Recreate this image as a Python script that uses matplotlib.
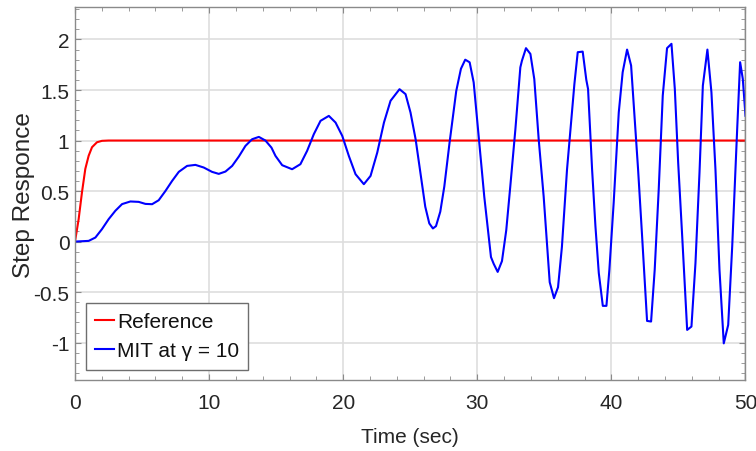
import numpy as np
import matplotlib
matplotlib.use('Agg')
import matplotlib.pyplot as plt
from matplotlib.ticker import MultipleLocator

# reference model output
t_ref = [0, 0.27, 0.52, 0.77, 1.02, 1.27, 1.64, 2.01, 2.5, 50.0]
y_ref = [0, 0.22, 0.487, 0.72, 0.85, 0.934, 0.983, 0.997, 1.0, 1.0]

# plant output with MIT rule, gamma = 10
t_mit = [0, 1.02, 1.52, 2.01, 2.51, 3.01, 3.51, 4.13, 4.75, 5.25,
         5.75, 6.24, 6.74, 7.24, 7.74, 8.36, 8.98, 9.6, 10.22, 10.72,
         11.22, 11.72, 12.22, 12.71, 13.21, 13.71, 14.2, 14.65, 14.95, 15.45,
         16.19, 16.81, 17.31, 17.81, 18.31, 18.93, 19.43, 19.93, 20.42, 20.92,
         21.54, 22.04, 22.54, 23.04, 23.53, 24.2, 24.65, 25.02, 25.4, 25.65,
         26.12, 26.42, 26.69, 26.92, 27.24, 27.54, 27.93, 28.43, 28.78, 29.1,
         29.43, 29.73, 30.1, 30.52, 31.02, 31.22, 31.52, 31.84, 32.16, 32.46,
         32.84, 33.21, 33.33, 33.63, 33.96, 34.25, 34.58, 34.95, 35.4, 35.72,
         36.02, 36.31, 36.69, 37.24, 37.49, 37.86, 38.13, 38.26, 38.56, 38.81,
         39.06, 39.36, 39.63, 39.85, 40.17, 40.55, 40.84, 41.17, 41.47, 41.74,
         41.99, 42.29, 42.66, 42.96, 43.23, 43.53, 43.83, 44.15, 44.48, 44.73,
         44.98, 45.28, 45.65, 45.97, 46.27, 46.57, 46.82, 47.16, 47.46, 47.76,
         48.06, 48.38, 48.71, 49.01, 49.38, 49.6, 49.8, 50.0]
y_mit = [0, 0.007, 0.04, 0.123, 0.222, 0.305, 0.371, 0.397, 0.393, 0.373,
         0.37, 0.409, 0.50, 0.60, 0.69, 0.749, 0.759, 0.733, 0.69, 0.67,
         0.693, 0.749, 0.842, 0.947, 1.013, 1.036, 1.0, 0.93, 0.848, 0.756,
         0.716, 0.766, 0.898, 1.063, 1.195, 1.244, 1.178, 1.046, 0.848, 0.667,
         0.568, 0.65, 0.881, 1.178, 1.393, 1.508, 1.459, 1.277, 1.013, 0.782,
         0.345, 0.18, 0.13, 0.153, 0.296, 0.545, 0.977, 1.49, 1.71, 1.80,
         1.774, 1.575, 1.043, 0.445, -0.153, -0.219, -0.30, -0.193, 0.113, 0.545,
         1.11, 1.724, 1.79, 1.914, 1.857, 1.608, 1.01, 0.445, -0.402, -0.56,
         -0.452, -0.053, 0.711, 1.558, 1.874, 1.88, 1.6, 1.51, 0.715, 0.152,
         -0.311, -0.636, -0.636, -0.278, 0.384, 1.278, 1.675, 1.90, 1.742, 1.212,
         0.715, 0.053, -0.785, -0.791, -0.278, 0.517, 1.444, 1.914, 1.957, 1.51,
         0.781, 0.053, -0.874, -0.841, -0.212, 0.682, 1.543, 1.90, 1.477, 0.715,
         -0.278, -1.007, -0.825, -0.046, 1.113, 1.775, 1.609, 1.245]

plt.rcParams['font.family'] = ['Liberation Sans', 'DejaVu Sans']
plt.rcParams['axes.unicode_minus'] = False

fig = plt.figure(figsize=(7.56, 4.52), dpi=100)
ax = fig.add_axes([0.0992, 0.157, 0.8869, 0.825])

ax.plot(t_ref, y_ref, color='#ff0000', lw=1.5, label='Reference')
ax.plot(t_mit, y_mit, color='#0000ff', lw=1.5, label='MIT at γ = 10')

ax.set_xlim(0, 50)
ax.set_ylim(-1.37, 2.32)
ax.xaxis.set_major_locator(MultipleLocator(10))
ax.xaxis.set_minor_locator(MultipleLocator(2))
ax.yaxis.set_major_locator(MultipleLocator(0.5))
ax.yaxis.set_minor_locator(MultipleLocator(0.1))
ax.set_yticks([-1, -0.5, 0, 0.5, 1, 1.5, 2])
ax.set_yticklabels(['-1', '-0.5', '0', '0.5', '1', '1.5', '2'])

ax.grid(True, which='major', color='#dedede', lw=1.2)
ax.set_axisbelow(True)
for s in ax.spines.values():
    s.set_color('#8a8a8a')
    s.set_linewidth(1.0)
ax.tick_params(which='both', direction='in', top=True, right=True,
               colors='#8a8a8a', labelcolor='#262626', labelsize=15)
ax.tick_params(which='major', length=4.5)
ax.tick_params(which='minor', length=3)
ax.tick_params(axis='x', pad=9)
ax.tick_params(axis='y', pad=4)

ax.set_xlabel('Time (sec)', fontsize=15, color='#262626', labelpad=11)
ax.set_ylabel('Step Responce', fontsize=17.5, color='#262626', labelpad=-1)

leg = ax.legend(loc='lower left', bbox_to_anchor=(0.016, 0.0276), borderaxespad=0,
                fontsize=15, fancybox=False, edgecolor='#6e6e6e', framealpha=1,
                handlelength=0.9, handletextpad=0.15, labelspacing=0.5,
                borderpad=0.45)
leg.get_frame().set_linewidth(1.0)
for txt in leg.get_texts():
    txt.set_color('#111111')

fig.savefig('out.png', dpi=100)
